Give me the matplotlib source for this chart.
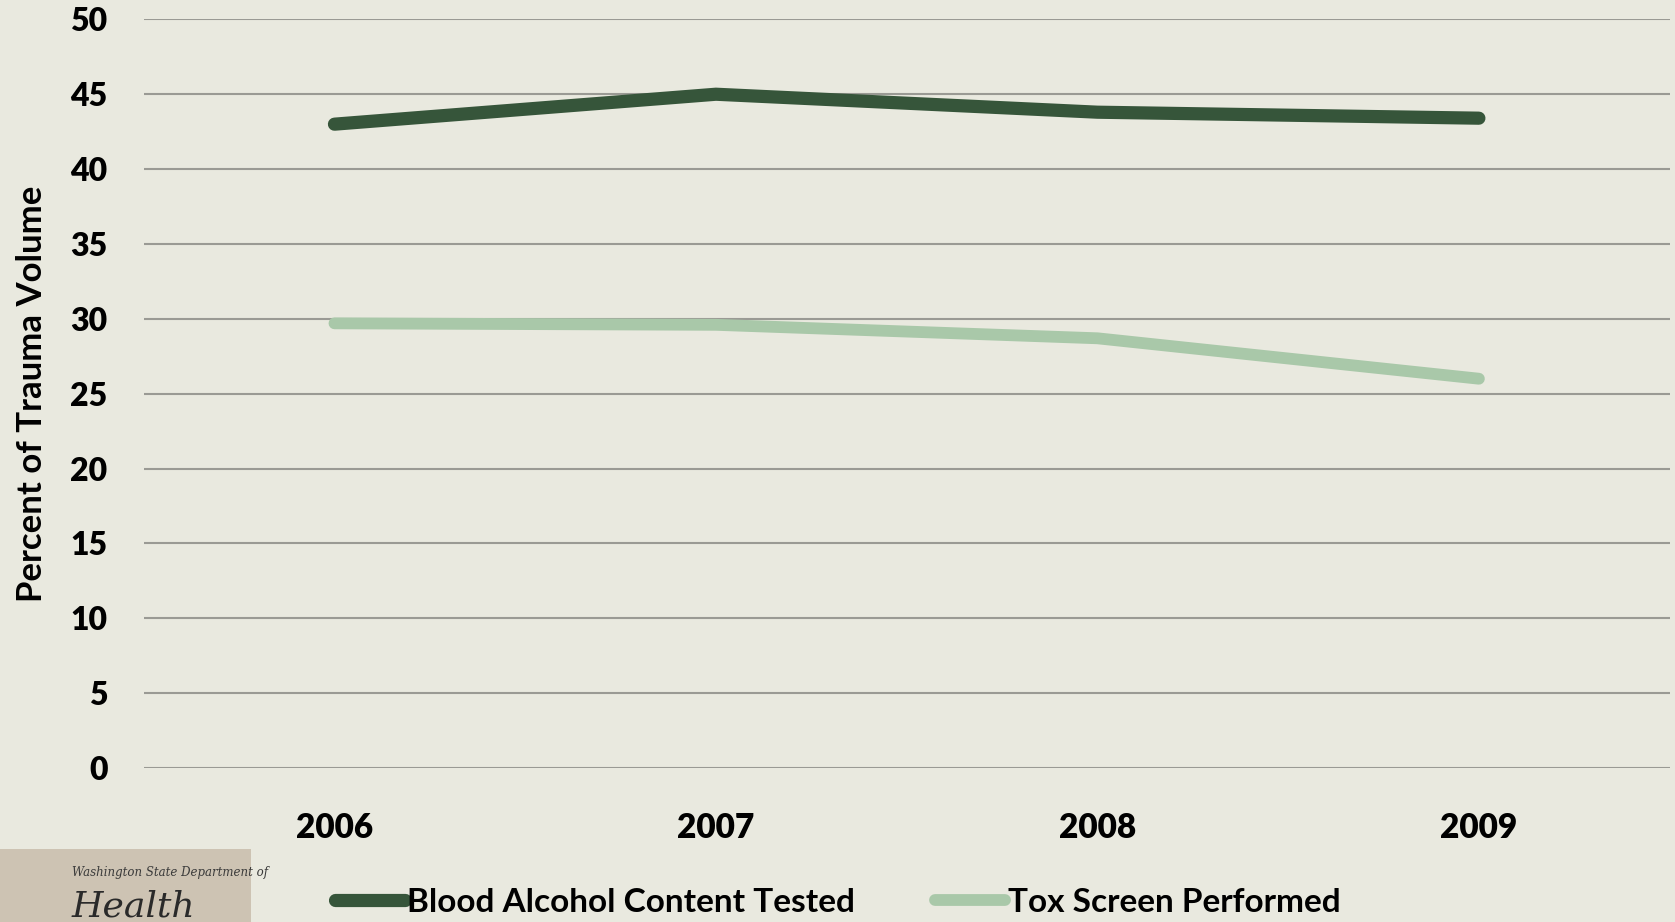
import matplotlib.pyplot as plt
from matplotlib.patches import Rectangle

# Data
years = ['2006', '2007', '2008', '2009']
bac_tested = [43.0, 45.0, 43.8, 43.4]
tox_screen = [29.7, 29.6, 28.7, 26.0]
y_ticks = [0, 5, 10, 15, 20, 25, 30, 35, 40, 45, 50]

bg = '#e9e9df'
dark = '#36553a'
light = '#a9c8a9'

plt.rcParams['font.family'] = ['Lato', 'DejaVu Sans']

fig = plt.figure(figsize=(16.75, 9.22), dpi=100, facecolor=bg)
ax = fig.add_axes([0.0858, 0.167, 0.911, 0.812])
ax.set_facecolor(bg)

x = list(range(len(years)))
l1, = ax.plot(x, bac_tested, color=dark, linewidth=9.5, solid_capstyle='round',
              solid_joinstyle='miter', label='Blood Alcohol Content Tested', zorder=3)
l2, = ax.plot(x, tox_screen, color=light, linewidth=8.5, solid_capstyle='round',
              solid_joinstyle='miter', label='Tox Screen Performed', zorder=3)

ax.set_xlim(-0.5, 3.5)
ax.set_ylim(0, 50)
ax.set_yticks(y_ticks)
ax.set_yticklabels([str(v) for v in y_ticks], fontsize=23, fontweight='heavy')
ax.set_xticks(x)
ax.set_xticklabels(years, fontsize=24, fontweight='heavy')
ax.tick_params(axis='y', length=0, pad=26)
ax.tick_params(axis='x', length=0, pad=32)
ax.grid(axis='y', color='#9a9a94', linewidth=1.5, zorder=1)
ax.set_axisbelow(True)
for s in ax.spines.values():
    s.set_visible(False)

ax.set_ylabel('Percent of Trauma Volume', fontsize=25, fontweight='bold', labelpad=16)

leg = fig.legend(handles=[l1, l2], loc='center', bbox_to_anchor=(0.5, 0.021), ncol=2,
                 frameon=False, handlelength=2.1, handletextpad=0.08, columnspacing=2.4,
                 prop={'weight': 'bold', 'size': 24})

# logo block in bottom-left corner
fig.patches.append(Rectangle((0.0, 0.0), 0.15, 0.079, transform=fig.transFigure,
                             facecolor='#cdc3b3', edgecolor='none', zorder=0))
fig.text(0.043, 0.05, 'Washington State Department of', fontsize=8.5,
         family='DejaVu Serif', style='italic', color='#3a3a3a')
fig.text(0.043, 0.006, 'Health', fontsize=26, family='DejaVu Serif',
         style='italic', color='#2a2a2a')

fig.savefig('out.png', dpi=100, facecolor=bg)
